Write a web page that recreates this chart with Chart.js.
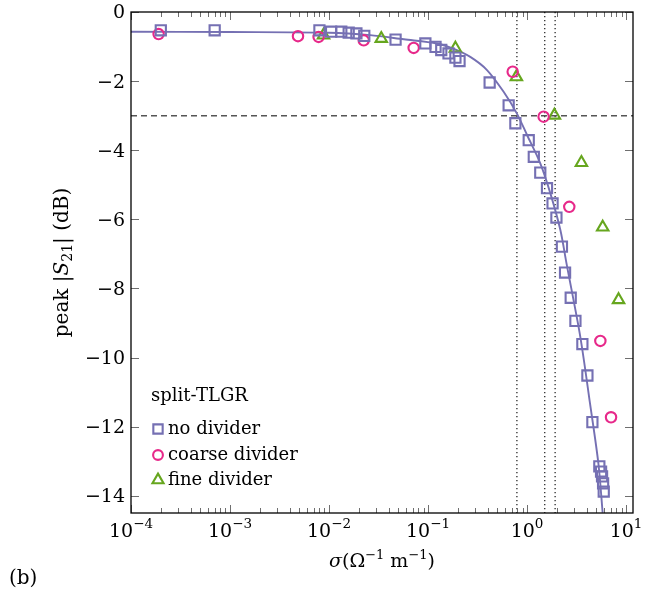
<!DOCTYPE html>
<html>
<head>
<meta charset="utf-8">
<script src="https://cdn.jsdelivr.net/npm/chart.js@4.4.1/dist/chart.umd.min.js"></script>
<style>
  html, body { margin: 0; background: #fff; }
  #wrap { width: 656px; height: 591px; }
</style>
</head>
<body>
<div id="wrap"><canvas id="c" width="656" height="591"></canvas></div>
<script>
/* ---------- data ---------- */
const noDivX = [2.0e-4, 7.0e-4, 8.0e-3, 1.05e-2, 1.33e-2, 1.58e-2, 1.89e-2, 2.27e-2, 4.7e-2,
                0.094, 0.119, 0.136, 0.161, 0.189, 0.208, 0.419, 0.652, 0.762, 1.04, 1.17,
                1.36, 1.59, 1.81, 1.98, 2.25, 2.42, 2.76, 3.08, 3.62, 4.07, 4.57,
                5.37, 5.59, 5.72, 5.86, 5.95];
const noDivY = [-0.53, -0.53, -0.53, -0.57, -0.57, -0.60, -0.62, -0.69, -0.80,
                -0.91, -1.01, -1.10, -1.20, -1.32, -1.42, -2.04, -2.70, -3.22, -3.71, -4.19,
                -4.65, -5.10, -5.54, -5.95, -6.79, -7.54, -8.27, -8.94, -9.61, -10.52, -11.87,
                -13.15, -13.30, -13.44, -13.64, -13.88];

const coarseX = [1.9e-4, 4.86e-3, 7.85e-3, 2.24e-2, 0.0716, 0.716, 1.47, 2.67, 5.5, 7.05];
const coarseY = [-0.64, -0.70, -0.72, -0.82, -1.04, -1.73, -3.03, -5.64, -9.52, -11.73];

const fineX = [8.8e-3, 0.0337, 0.189, 0.78, 1.89, 3.54, 5.81, 8.4];
const fineY = [-0.67, -0.77, -1.05, -1.88, -2.99, -4.36, -6.23, -8.33];

const fitX = [1e-4, 1e-3, 1e-2, 0.026, 0.057, 0.123, 0.18, 0.267, 0.394, 0.58,
              0.79, 1.0, 1.36, 1.72, 2.17, 2.5, 3.45, 4.32, 5.25, 5.8];
const fitY = [-0.57, -0.58, -0.60, -0.67, -0.79, -0.91, -1.06, -1.30, -1.68, -2.31,
              -2.94, -3.56, -4.38, -5.25, -6.31, -7.27, -9.4, -11.32, -13.06, -14.49];

const thresholdDb = -3;
const crossX = [0.79, 1.51, 1.92];          // dotted verticals

const xMin = 1e-4, xMax = 11.75;
const yMin = -14.5, yMax = 0;
const xTickExps = [-4, -3, -2, -1, 0, 1];
const yTicks = [0, -2, -4, -6, -8, -10, -12, -14];

const seriesLabels = ["no divider", "coarse divider", "fine divider"];
const legendTitle = "split-TLGR";

/* ---------- styling ---------- */
const PURPLE = "#7570b3", PINK = "#e7298a", GREEN = "#66a61e";
const SERIF = '"DejaVu Serif", "Liberation Serif", serif';
const MARK_W = 2.1;

const pts = (xs, ys) => xs.map((x, i) => ({ x, y: ys[i] }));

/* ---------- dataset list ---------- */
const datasets = [
  { label: seriesLabels[0], data: pts(noDivX, noDivY), pointStyle: "rect", pointRadius: 7.2,
    borderColor: PURPLE, pointBorderColor: PURPLE, backgroundColor: "transparent",
    pointBackgroundColor: "transparent", borderWidth: MARK_W, pointBorderWidth: MARK_W, showLine: false },
  { label: seriesLabels[1], data: pts(coarseX, coarseY), pointStyle: "circle", pointRadius: 5.2,
    borderColor: PINK, pointBorderColor: PINK, backgroundColor: "transparent",
    pointBackgroundColor: "transparent", borderWidth: MARK_W, pointBorderWidth: MARK_W, showLine: false },
  { label: seriesLabels[2], data: pts(fineX, fineY), pointStyle: "triangle", pointRadius: 6.6,
    borderColor: GREEN, pointBorderColor: GREEN, backgroundColor: "transparent",
    pointBackgroundColor: "transparent", borderWidth: MARK_W, pointBorderWidth: MARK_W, showLine: false },
  { label: "fit", data: pts(fitX, fitY), showLine: true, pointRadius: 0, borderColor: PURPLE,
    borderWidth: 1.9, tension: 0.3, fill: false }
];
// -3 dB reference + crossing lines
datasets.push({ label: "-3dB", data: [{ x: xMin, y: thresholdDb }, { x: xMax, y: thresholdDb }],
  showLine: true, pointRadius: 0, borderColor: "#555", borderWidth: 1.5, borderDash: [6, 4] });
crossX.forEach(c => datasets.push({ label: "cross", data: [{ x: c, y: yMax }, { x: c, y: yMin }],
  showLine: true, pointRadius: 0, borderColor: "#000", borderWidth: 1.1, borderDash: [1.2, 2.8] }));

/* ---------- text helpers ---------- */
function font(size, italic) { return `${italic ? "italic " : ""}${size}px ${SERIF}`; }
// runs: [{t, size, italic, dy}] drawn left to right, centred at cx
function drawRuns(ctx, runs, cx, baseline) {
  let w = 0;
  runs.forEach(r => { ctx.font = font(r.size, r.italic); r.w = ctx.measureText(r.t).width; w += r.w; });
  let x = cx - w / 2;
  ctx.textAlign = "left"; ctx.textBaseline = "alphabetic";
  runs.forEach(r => { ctx.font = font(r.size, r.italic); ctx.fillText(r.t, x, baseline + (r.dy || 0)); x += r.w; });
}
function marker(ctx, style, cx, cy, r) {
  ctx.beginPath();
  if (style === "rect") {
    const s = r * Math.SQRT1_2;
    ctx.rect(cx - s, cy - s, 2 * s, 2 * s);
  } else if (style === "circle") {
    ctx.arc(cx, cy, r, 0, 2 * Math.PI);
  } else {
    for (let k = 0; k < 3; k++) {
      const t = k * 2 * Math.PI / 3;
      ctx[k ? "lineTo" : "moveTo"](cx + Math.sin(t) * r, cy - Math.cos(t) * r);
    }
    ctx.closePath();
  }
  ctx.stroke();
}

/* ---------- frame, ticks, labels, legend ---------- */
const decorations = {
  id: "decorations",
  afterDraw(chart) {
    const { ctx, chartArea: a, scales: { x, y } } = chart;
    ctx.save();

    // ticks (inward, both sides)
    ctx.strokeStyle = "#6f6f6f"; ctx.lineWidth = 1;
    ctx.beginPath();
    for (let e = -4; e <= 1; e++) {
      for (let m = 1; m <= 9; m++) {
        const v = m * Math.pow(10, e);
        if (v < xMin || v > xMax) continue;
        const px = Math.round(x.getPixelForValue(v)) + 0.5, len = m === 1 ? 8 : 5;
        ctx.moveTo(px, a.bottom); ctx.lineTo(px, a.bottom - len);
        ctx.moveTo(px, a.top); ctx.lineTo(px, a.top + len);
      }
    }
    yTicks.forEach(v => {
      const py = Math.round(y.getPixelForValue(v)) + 0.5;
      ctx.moveTo(a.left, py); ctx.lineTo(a.left + 8, py);
      ctx.moveTo(a.right, py); ctx.lineTo(a.right - 8, py);
    });
    ctx.stroke();

    // frame
    ctx.strokeStyle = "#000"; ctx.lineWidth = 1.3;
    ctx.strokeRect(a.left, a.top, a.right - a.left, a.bottom - a.top);

    ctx.fillStyle = "#000";
    // x tick labels 10^n
    xTickExps.forEach(e => {
      const px = x.getPixelForValue(Math.pow(10, e));
      drawRuns(ctx, [{ t: "10", size: 19 }, { t: e < 0 ? "\u2212" + (-e) : String(e), size: 13.5, dy: -9 }],
        px, a.bottom + 24);
    });
    // y tick labels
    ctx.font = font(19); ctx.textAlign = "right"; ctx.textBaseline = "middle";
    yTicks.forEach(v => ctx.fillText(v === 0 ? "0" : "\u2212" + (-v), a.left - 6, y.getPixelForValue(v) + 1.5));

    // x title
    drawRuns(ctx, [
      { t: "\u03c3", size: 19, italic: true }, { t: "(\u03a9", size: 19 },
      { t: "\u22121", size: 13, dy: -8 }, { t: " m", size: 19 },
      { t: "\u22121", size: 13, dy: -8 }, { t: ")", size: 19 }
    ], (a.left + a.right) / 2, 567);

    // y title (rotated)
    ctx.save();
    ctx.translate(68, (a.top + a.bottom) / 2);
    ctx.rotate(-Math.PI / 2);
    drawRuns(ctx, [
      { t: "peak |", size: 20 }, { t: "S", size: 20, italic: true },
      { t: "21", size: 14, dy: 4 }, { t: "| (dB)", size: 20 }
    ], 0, 0);
    ctx.restore();

    // panel tag
    ctx.font = font(20); ctx.textAlign = "left"; ctx.textBaseline = "alphabetic";
    ctx.fillText("(b)", 9, 584);

    // legend
    ctx.font = font(18);
    ctx.fillText(legendTitle, 151, 401);
    const rows = [434, 460, 485];
    [0, 1, 2].forEach(i => {
      const ds = chart.data.datasets[i];
      ctx.fillStyle = "#000"; ctx.font = font(18);
      ctx.fillText(ds.label, 168, rows[i]);
      ctx.strokeStyle = ds.borderColor; ctx.lineWidth = MARK_W;
      const r = ds.pointStyle === "rect" ? 6.6 : ds.pointStyle === "triangle" ? 6.4 : 4.9;
      marker(ctx, ds.pointStyle, 158, rows[i] - 5, r);
    });
    ctx.restore();
  }
};

new Chart(document.getElementById("c"), {
  type: "scatter",
  data: { datasets },
  options: {
    responsive: false,
    animation: false,
    events: [],
    layout: { padding: { left: 0, top: 12, right: 23, bottom: 0 } },
    plugins: { legend: { display: false }, tooltip: { enabled: false } },
    scales: {
      x: {
        type: "logarithmic", min: xMin, max: xMax,
        grid: { display: false }, border: { display: false }, ticks: { display: false },
        afterFit: s => { s.height = 78; }
      },
      y: {
        type: "linear", min: yMin, max: yMax,
        grid: { display: false }, border: { display: false }, ticks: { display: false },
        afterFit: s => { s.width = 131; }
      }
    }
  },
  plugins: [decorations]
});
</script>
</body>
</html>
